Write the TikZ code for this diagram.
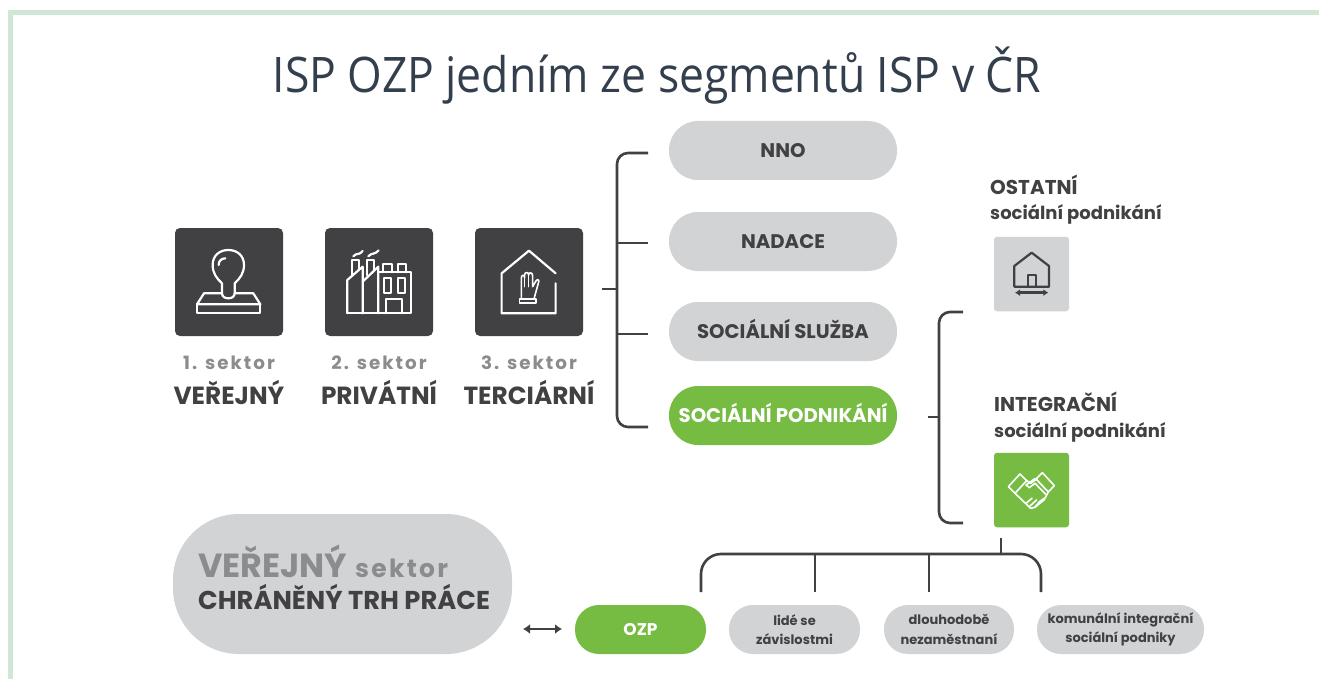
\documentclass[tikz,border=0pt]{standalone}
\usepackage{fontspec}
\setmainfont{Poppins}
\newfontfamily\titlefont{Open Sans}
\newfontfamily\spacedfont[LetterSpace=11]{Poppins}
\newfontfamily\spacedfontb[LetterSpace=9]{Poppins}
\usetikzlibrary{arrows.meta}
\definecolor{cgreen}{HTML}{76BC43}
\definecolor{cgray}{HTML}{D1D3D4}
\definecolor{cdark}{HTML}{414042}
\definecolor{cmid}{HTML}{8A8C8E}
\definecolor{ctitle}{HTML}{333F4D}
\definecolor{cborder}{HTML}{CFE8D6}
\tikzset{
  pill/.style={fill=cgray,rounded corners=#1,inner sep=0pt,align=center,text=cdark,font=\bfseries\fontsize{19.7}{24}\selectfont},
  pill/.default=29pt,
  mainpill/.style={pill,minimum width=228pt,minimum height=59pt,text height=14pt,text depth=0pt},
  iconbox/.style={inner sep=0pt,rounded corners=5pt,fill=cdark},
  conn/.style={draw=cdark,line width=2.6pt},
  iconw/.style={draw=white,line width=2.2pt,line join=round,line cap=round},
  iconf/.style={draw=white,line width=1.6pt,line join=round,line cap=round},
  icond/.style={draw=cdark,line width=2.2pt,line join=round},
  seclab/.style={text=cmid,font=\spacedfont\bfseries\fontsize{18.3}{20}\selectfont,inner sep=0pt},
  secname/.style={text=cdark,font=\bfseries\fontsize{24.8}{28}\selectfont,inner sep=0pt},
  sidelab/.style={text=cdark,font=\bfseries\fontsize{18}{26}\selectfont,inner sep=0pt,align=left,anchor=north west},
  sidehead/.style={text=cdark,font=\bfseries\fontsize{20}{24}\selectfont,inner sep=0pt,anchor=base west},
  small/.style={font=\bfseries\fontsize{13}{19.5}\selectfont}
}
\begin{document}
\begin{tikzpicture}[x=1pt,y=-1pt]
\useasboundingbox (0,0) rectangle (1319,679);
\fill[white] (0,0) rectangle (1319,679);
\fill[cborder] (8,10) rectangle (1319,15.5);
\fill[cborder] (8,10) rectangle (12.5,679);
\node[text=ctitle,inner sep=0pt,font=\titlefont\fontsize{49}{56}\selectfont] (title) at (657,76) {\scalebox{0.908}[1]{ISP OZP jedním ze segmentů ISP v ČR}};

% sector boxes
\node[iconbox,minimum width=108pt,minimum height=108pt] (s1) at (229,282) {};
\node[iconbox,minimum width=108pt,minimum height=108pt] (s2) at (379,282) {};
\node[iconbox,minimum width=108pt,minimum height=108pt] (s3) at (529,282) {};
\node[seclab] (l1) at (229,362.5) {1. sektor};
\node[seclab] (l2) at (379,362.5) {2. sektor};
\node[seclab] (l3) at (529,362.5) {3. sektor};
\node[secname] (n1) at (229,392) {VEŘEJNÝ};
\node[secname] (n2) at (379,392) {PRIVÁTNÍ};
\node[secname] (n3) at (529,392) {TERCIÁRNÍ};

% icons (zoom coordinates)
\begin{scope}[shift={(160,215)},x=0.3333pt,y=-0.3333pt]
  % stamp
  \draw[iconw] (186,235) -- (186,205) .. controls (170,190) and (158,175) .. (158,150)
     .. controls (158,122) and (178,105) .. (205,105) .. controls (232,105) and (252,122) .. (252,150)
     .. controls (252,175) and (240,190) .. (224,205) -- (224,235)
     .. controls (224,245) and (215,250) .. (205,250) .. controls (195,250) and (186,245) .. (186,235);
  \draw[iconw] (176,150) .. controls (176,138) and (184,130) .. (196,130);
  \draw[iconw] (186,235) -- (132,235) -- (111,268) -- (301,268) -- (280,235) -- (224,235);
  \draw[iconw] (111,268) -- (111,295) -- (301,295) -- (301,268);
  % factory
  \draw[iconw] (562,295) -- (752,295) -- (752,172) -- (655,172);
  \draw[iconw] (562,295) -- (562,195) -- (608,155) -- (608,295);
  \draw[iconw] (608,200) -- (655,155) -- (655,295);
  \draw[iconw] (575,183) -- (575,135) -- (597,135) -- (597,165);
  \draw[iconw] (620,180) -- (620,135) -- (642,135) -- (642,167);
  \draw[iconw] (670,172) -- (670,146) -- (695,146) -- (695,172);
  \draw[iconw] (715,172) -- (715,146) -- (738,146) -- (738,172);
  \draw[iconw] (672,188) rectangle (692,235);
  \draw[iconw] (714,188) rectangle (734,235);
  \draw[iconw] (677,295) -- (677,252) -- (727,252) -- (727,295);
  \draw[iconw] (580,124) .. controls (590,112) and (598,122) .. (608,108);
  \draw[iconw] (625,124) .. controls (635,112) and (645,120) .. (656,106);
  % house with glove
  \draw[iconw] (1187,175) -- (1107,107) -- (1025,175) -- (1025,295) -- (1187,295) -- (1187,205);
  \draw[iconf] (1079,252) rectangle (1128,264);
  \draw[iconf] (1084,252) -- (1084,190) .. controls (1084,178) and (1094,178) .. (1094,188)
    -- (1094,180) .. controls (1094,170) and (1106,170) .. (1106,180)
    -- (1106,180) .. controls (1106,170) and (1118,172) .. (1118,182)
    -- (1118,215) -- (1128,198) .. controls (1133,190) and (1140,195) .. (1135,205)
    -- (1122,252);
  \draw[iconf] (1094,188) -- (1094,215) (1106,180) -- (1106,215);
\end{scope}

% main pills
\node[mainpill] (p1) at (783,150.5) {NNO};
\node[mainpill] (p2) at (783,241.5) {NADACE};
\node[mainpill] (p3) at (783,331.5) {SOCIÁLNÍ SLUŽBA};
\node[mainpill,fill=cgreen,text=white] (p4) at (783,415.5) {SOCIÁLNÍ PODNIKÁNÍ};

% first bracket
\coordinate (b1) at (602,289);
\coordinate (b1s) at (617,289);
\coordinate (t1) at (648,153);
\coordinate (t2) at (648,243);
\coordinate (t3) at (648,334);
\coordinate (t4) at (648,427);
\draw[conn,rounded corners=11pt] (t1) -- (617,153) -- (617,427) -- (t4);
\draw[conn] (b1) -- (b1s);
\draw[conn] (617,243) -- (t2);
\draw[conn] (617,334) -- (t3);

% right side
\node[sidehead] (o) at (990,194) {OSTATNÍ};
\node[sidelab,anchor=base west] (o2) at (990,219) {sociální podnikání};
\node[iconbox,fill=cgray,rounded corners=3pt,minimum width=75pt,minimum height=74.5pt] (io) at (1031.5,274) {};
\node[sidehead] (i) at (994,411) {INTEGRAČNÍ};
\node[sidelab,anchor=base west] (i2) at (994,437) {sociální podnikání};
\node[iconbox,fill=cgreen,rounded corners=3pt,minimum width=75pt,minimum height=74.5pt] (ii) at (1031.5,490) {};
\begin{scope}[shift={(920,170)},x=0.3333pt,y=-0.3333pt]
  \draw[icond] (283,350) -- (283,288) -- (335,248) -- (387,288) -- (387,350) -- cycle;
  \draw[icond] (323,350) -- (323,315) -- (347,315) -- (347,350);
  \draw[icond,line width=2.6pt,{Latex[length=5pt,width=7pt]}-{Latex[length=5pt,width=7pt]}] (285,368) -- (385,368);
  % handshake
  \draw[iconf] (265,950) -- (300,912) -- (320,932) -- (285,970) -- cycle;
  \draw[iconf] (403,947) -- (367,908) -- (348,927) -- (385,966) -- cycle;
  \draw[iconf] (320,932) -- (332,940) -- (352,926);
  \draw[iconf] (345,926) -- (318,945) -- (328,953) -- (345,940) -- (376,972);
  \draw[iconf] (285,970) -- (332,1015) -- (345,1012) -- (372,990) -- (385,966);
  \draw[iconf] (318,1000) -- (336,985) (330,1008) -- (350,990) (345,1010) -- (362,994) (355,998) -- (372,985);
\end{scope}

% second bracket
\coordinate (b2) at (928,417);
\coordinate (b2s) at (939,417);
\coordinate (u1) at (963,312);
\coordinate (u2) at (963,523);
\draw[conn,rounded corners=11pt] (u1) -- (939,312) -- (939,523) -- (u2);
\draw[conn] (b2) -- (b2s);

% bottom bracket
\coordinate (c0) at (1001,538);
\coordinate (c0b) at (1001,554);
\coordinate (v1) at (701,592);
\coordinate (v2) at (815,592);
\coordinate (v3) at (929,592);
\coordinate (v4) at (1041,592);
\draw[conn,rounded corners=20pt] (v1) -- (701,554) -- (1041,554) -- (v4);
\draw[conn] (c0) -- (c0b);
\draw[conn] (815,554) -- (v2);
\draw[conn] (929,554) -- (v3);

% bottom pills
\node[pill=66pt,minimum width=339pt,minimum height=140pt] (big) at (342.5,584) {};
\node[text=cmid,inner sep=0pt,anchor=base west,font=\bfseries\fontsize{33.4}{33}\selectfont] (bigA) at (198,577) {VEŘEJNÝ};
\node[text=cmid,inner sep=0pt,anchor=base west,font=\spacedfontb\bfseries\fontsize{25}{25}\selectfont] (bigB) at (355,577) {sektor};
\node[text=cdark,inner sep=0pt,anchor=base west,font=\bfseries\fontsize{25.8}{26}\selectfont] (bigC) at (198,609) {CHRÁNĚNÝ TRH PRÁCE};
\node[pill=24pt,font=\bfseries\fontsize{17}{20}\selectfont,fill=cgreen,text=white,minimum width=131pt,minimum height=49pt] (q1) at (640.5,629.5) {OZP};
\node[pill=24pt,small,minimum width=131pt,minimum height=49pt] (q2) at (794.5,629.5) {lidé se\\závislostmi};
\node[pill=24pt,small,minimum width=130pt,minimum height=49pt] (q3) at (949,629.5) {dlouhodobě\\nezaměstnaní};
\node[pill=24pt,small,minimum width=167pt,minimum height=49pt] (q4) at (1120.5,629.5) {komunální integrační\\sociální podniky};
\coordinate (a1) at (523,629);
\coordinate (a2) at (562,629);
\draw[conn,line width=2.8pt,{Latex[length=7pt,width=10pt]}-{Latex[length=7pt,width=10pt]}] (a1) -- (a2);
\end{tikzpicture}
\end{document}
